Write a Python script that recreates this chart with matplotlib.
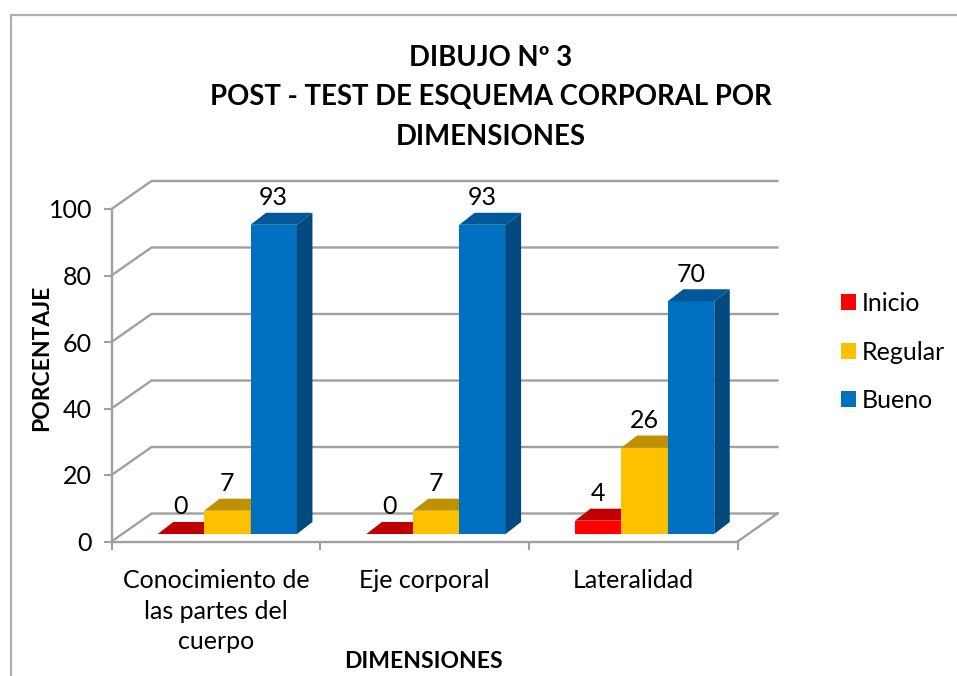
import numpy as np
import matplotlib
matplotlib.use('Agg')
import matplotlib.pyplot as plt
from matplotlib.lines import Line2D
from matplotlib.patches import Polygon, Patch

categories = ['Conocimiento de\nlas partes del\ncuerpo', 'Eje corporal', 'Lateralidad']
series_names = ['Inicio', 'Regular', 'Bueno']
inicio = [0, 0, 4]
regular = [7, 7, 26]
bueno = [93, 93, 70]
y_ticks = [0, 20, 40, 60, 80, 100]

W, H = 957, 676
plt.rcParams['font.family'] = ['Lato', 'DejaVu Sans']

fig = plt.figure(figsize=(W / 100, H / 100), dpi=100)
# front plane of the fake 3D box, in pixels
left, right, top, bottom = 111.5, 737.5, 209, 541.5
ax = fig.add_axes([left / W, 1 - bottom / H, (right - left) / W, (bottom - top) / H])
ax.set_xlim(0, 3)
ax.set_ylim(0, 100)

px_x = 3 / (right - left)
px_y = 100 / (bottom - top)
box_dx, box_dy = 40 * px_x, 28 * px_y
bar_dx, bar_dy = 15.5 * px_x, 12 * px_y
base_dx, base_dy = 10.5 * px_x, 7.5 * px_y
bar_w = 46.4 * px_x

grey = '#a0a0a0'

# walls and gridlines
for v in y_ticks:
    ax.plot([0, box_dx, 3 + box_dx], [v, v + box_dy, v + box_dy], color=grey, lw=1.7,
            clip_on=False, zorder=1, solid_joinstyle='miter')
ax.plot([3, 3 + box_dx], [0, box_dy], color=grey, lw=1.7, clip_on=False, zorder=1)

colors = ['#FF0000', '#FFC000', '#0070C0']
top_colors = ['#C00000', '#BF9000', '#005797']
side_colors = ['#BF0000', '#BF9000', '#004A80']

for i, vals in enumerate([inicio, regular, bueno]):
    x = np.arange(3) + 0.5 + (i - 1) * bar_w + base_dx + 1 * px_x
    ax.bar(x, vals, width=bar_w, bottom=base_dy, color=colors[i], zorder=3 + i, clip_on=False)
    for xi, v in zip(x, vals):
        y0 = base_dy
        y1 = base_dy + v
        xl, xr = xi - bar_w / 2, xi + bar_w / 2
        ax.add_patch(Polygon([(xl, y1), (xr, y1), (xr + bar_dx, y1 + bar_dy), (xl + bar_dx, y1 + bar_dy)],
                             closed=True, fc=top_colors[i], ec='none', zorder=3 + i, clip_on=False))
        ax.add_patch(Polygon([(xr, y0), (xr + bar_dx, y0 + bar_dy), (xr + bar_dx, y1 + bar_dy), (xr, y1)],
                             closed=True, fc=side_colors[i], ec='none', zorder=3 + i, clip_on=False))
        ax.annotate(str(v), (xi, y1 + bar_dy), xytext=(0, 15 * 0.72), textcoords='offset points',
                    ha='center', va='center', fontsize=18, color='black', zorder=10)

for s in ['top', 'right']:
    ax.spines[s].set_visible(False)
for s in ['left', 'bottom']:
    ax.spines[s].set_color(grey)
    ax.spines[s].set_linewidth(1.7)

ax.set_yticks(y_ticks)
ax.set_xticks([0, 1, 2, 3])
ax.set_xticklabels([])
ax.set_xticks([0.5, 1.5, 2.5], minor=True)
ax.set_xticklabels(categories, minor=True, fontsize=18, linespacing=1.4)
ax.tick_params(axis='y', length=6, width=1.5, color=grey, pad=8, labelsize=18)
ax.tick_params(axis='x', which='major', length=6, width=1.5, color=grey)
ax.tick_params(axis='x', which='minor', length=0, pad=20)

fig.text(42 / W, 1 - 358 / H, 'PORCENTAJE', rotation=90, ha='center', va='center',
         fontsize=16.5, fontweight='bold')
fig.text(423 / W, 1 - 661 / H, 'DIMENSIONES', ha='center', va='center',
         fontsize=16.5, fontweight='bold')

for txt, y in [('DIBUJO Nº 3', 58), ('POST - TEST DE ESQUEMA CORPORAL POR', 97), ('DIMENSIONES', 137)]:
    fig.text(491 / W, 1 - y / H, txt, ha='center', va='center', fontsize=19.8, fontweight='bold')

handles = [Patch(fc=c, ec='none', label=n) for c, n in zip(colors, series_names)]
fig.legend(handles=handles, loc='upper left', bbox_to_anchor=(841 / W, 1 - 292 / H), frameon=False,
           fontsize=18, handlelength=0.6, handleheight=0.6, handletextpad=0.25,
           labelspacing=1.02, borderaxespad=0, borderpad=0)

# chart area border, cut by the image edge
fig.add_artist(Line2D([11 / W, 11 / W, 1], [0, 1 - 15 / H, 1 - 15 / H], color='#b0b0b0', lw=1.6,
                      transform=fig.transFigure, solid_joinstyle='miter'))

fig.savefig('out.png', dpi=100, facecolor='white')
